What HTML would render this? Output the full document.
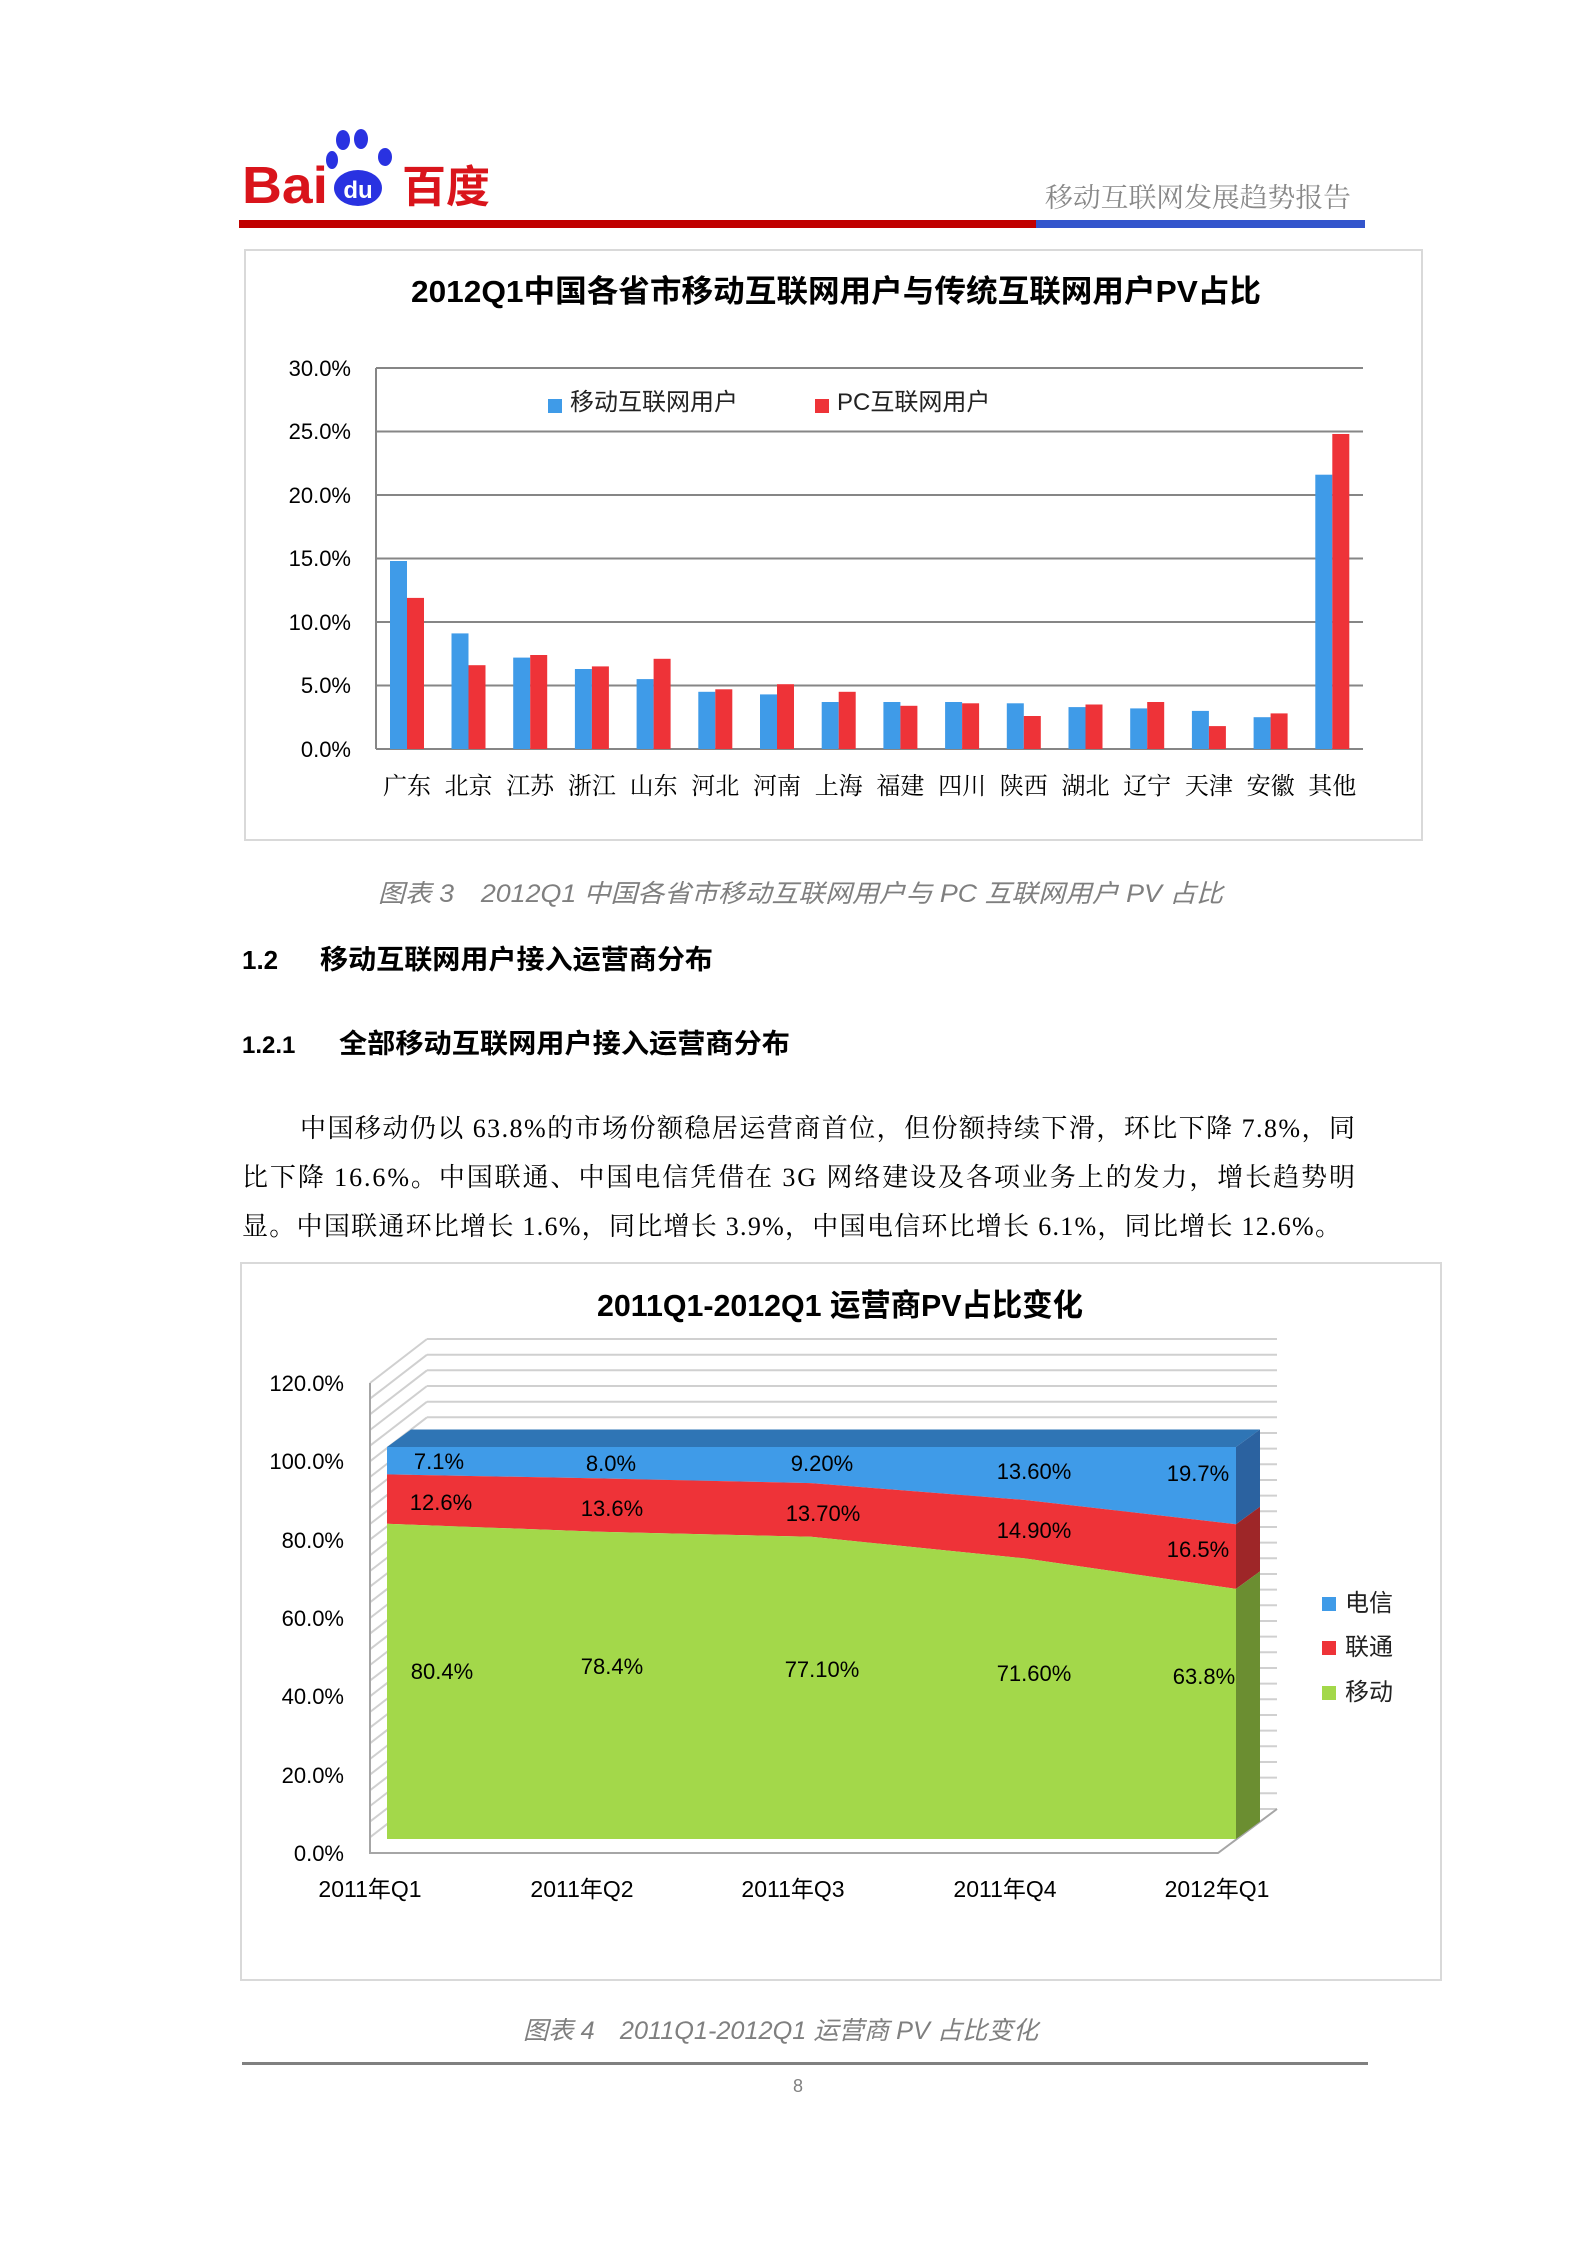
<!DOCTYPE html>
<html><head><meta charset="utf-8"><style>
body{margin:0;background:#fff;}
svg{display:block;}
.s{font-family:"Liberation Sans","Noto Sans CJK SC",sans-serif;}
.r{font-family:"Liberation Serif","Noto Serif CJK SC",serif;}
</style></head><body>
<svg width="1586" height="2244" viewBox="0 0 1586 2244" xmlns="http://www.w3.org/2000/svg">
<rect width="1586" height="2244" fill="#fff"/>
<!-- header -->
<g class="s">
<text x="242" y="203" font-size="52" font-weight="bold" fill="#d9141b" font-family="Liberation Sans,sans-serif" textLength="86" lengthAdjust="spacingAndGlyphs">Bai</text>
<ellipse cx="343" cy="140" rx="7" ry="10" fill="#2932e1"/>
<ellipse cx="361" cy="139" rx="7" ry="10" fill="#2932e1"/>
<ellipse cx="332" cy="160" rx="6" ry="9" fill="#2932e1"/>
<ellipse cx="385" cy="157" rx="7" ry="9" fill="#2932e1"/>
<ellipse cx="358" cy="188" rx="24" ry="18" fill="#2932e1"/>
<text x="358" y="198" font-size="24" font-weight="bold" fill="#fff" text-anchor="middle" font-family="Liberation Sans,sans-serif">du</text>
<text x="402" y="202" font-size="44" font-weight="bold" fill="#d9141b" font-family="Noto Sans CJK SC,sans-serif">百度</text>
</g>
<text x="1045" y="207" font-size="27" fill="#888" class="r" textLength="306" lengthAdjust="spacingAndGlyphs">移动互联网发展趋势报告</text>
<rect x="239" y="220" width="797" height="8" fill="#c00000"/>
<rect x="1036" y="220" width="329" height="8" fill="#3355cc"/>

<!-- chart 1 -->
<rect x="245" y="250" width="1177" height="590" fill="#fff" stroke="#d9d9d9" stroke-width="2"/>
<text x="411" y="302" font-size="31" font-weight="bold" class="s" fill="#000" textLength="850" lengthAdjust="spacingAndGlyphs">2012Q1中国各省市移动互联网用户与传统互联网用户PV占比</text>
<g stroke="#868686" stroke-width="2">
<line x1="376" y1="368" x2="1363" y2="368"/>
<line x1="376" y1="431.5" x2="1363" y2="431.5"/>
<line x1="376" y1="495" x2="1363" y2="495"/>
<line x1="376" y1="558.5" x2="1363" y2="558.5"/>
<line x1="376" y1="622" x2="1363" y2="622"/>
<line x1="376" y1="685.5" x2="1363" y2="685.5"/>
<line x1="376" y1="749" x2="1363" y2="749"/>
<line x1="376" y1="368" x2="376" y2="749"/>
</g>
<g class="s" font-size="22" text-anchor="end" fill="#000">
<text x="351" y="376">30.0%</text><text x="351" y="439">25.0%</text><text x="351" y="503">20.0%</text>
<text x="351" y="566">15.0%</text><text x="351" y="630">10.0%</text><text x="351" y="693">5.0%</text><text x="351" y="757">0.0%</text>
</g>
<rect x="548" y="399" width="14" height="14" fill="#3f9be8"/>
<text x="570" y="410" font-size="24" class="s" fill="#222">移动互联网用户</text>
<rect x="815" y="399" width="14" height="14" fill="#ee3338"/>
<text x="837" y="410" font-size="24" class="s" fill="#222">PC互联网用户</text>
<g fill="#3f9be8">
<rect x="390" y="561" width="17" height="188"/><rect x="451.5" y="633.4" width="17" height="115.6"/>
<rect x="513.2" y="657.6" width="17" height="91.4"/><rect x="574.9" y="669" width="17" height="80"/>
<rect x="636.6" y="679.1" width="17" height="69.9"/><rect x="698.3" y="691.8" width="17" height="57.2"/>
<rect x="760" y="694.4" width="17" height="54.6"/><rect x="821.7" y="702" width="17" height="47"/>
<rect x="883.4" y="702" width="17" height="47"/><rect x="945.1" y="702" width="17" height="47"/>
<rect x="1006.8" y="703.3" width="17" height="45.7"/><rect x="1068.5" y="707.1" width="17" height="41.9"/>
<rect x="1130.2" y="708.4" width="17" height="40.6"/><rect x="1191.9" y="710.9" width="17" height="38.1"/>
<rect x="1253.6" y="717.2" width="17" height="31.8"/><rect x="1315.3" y="474.7" width="17" height="274.3"/>
</g>
<g fill="#ee3338">
<rect x="407" y="597.9" width="17" height="151.1"/><rect x="468.5" y="665.2" width="17" height="83.8"/>
<rect x="530.2" y="655" width="17" height="94"/><rect x="591.9" y="666.4" width="17" height="82.6"/>
<rect x="653.6" y="658.8" width="17" height="90.2"/><rect x="715.3" y="689.3" width="17" height="59.7"/>
<rect x="777" y="684.2" width="17" height="64.8"/><rect x="838.7" y="691.8" width="17" height="57.2"/>
<rect x="900.4" y="705.8" width="17" height="43.2"/><rect x="962.1" y="703.3" width="17" height="45.7"/>
<rect x="1023.8" y="716" width="17" height="33"/><rect x="1085.5" y="704.5" width="17" height="44.5"/>
<rect x="1147.2" y="702" width="17" height="47"/><rect x="1208.9" y="726.1" width="17" height="22.9"/>
<rect x="1270.6" y="713.4" width="17" height="35.6"/><rect x="1332.3" y="434" width="17" height="315"/>
</g>
<g class="r" font-size="24" text-anchor="middle" fill="#000">
<text x="407" y="794">广东</text><text x="468.5" y="794">北京</text><text x="530.2" y="794">江苏</text><text x="591.9" y="794">浙江</text>
<text x="653.6" y="794">山东</text><text x="715.3" y="794">河北</text><text x="777" y="794">河南</text><text x="838.7" y="794">上海</text>
<text x="900.4" y="794">福建</text><text x="962.1" y="794">四川</text><text x="1023.8" y="794">陕西</text><text x="1085.5" y="794">湖北</text>
<text x="1147.2" y="794">辽宁</text><text x="1208.9" y="794">天津</text><text x="1270.6" y="794">安徽</text><text x="1332.3" y="794">其他</text>
</g>

<text x="378" y="902" font-size="25" font-style="italic" fill="#7f7f7f" class="s" textLength="845" lengthAdjust="spacingAndGlyphs">图表 3　2012Q1 中国各省市移动互联网用户与 PC 互联网用户 PV 占比</text>
<text x="242" y="969" font-size="26" font-weight="bold" class="s">1.2</text>
<text x="320" y="969" font-size="27" font-weight="bold" class="s" textLength="393" lengthAdjust="spacingAndGlyphs">移动互联网用户接入运营商分布</text>
<text x="242" y="1053" font-size="24" font-weight="bold" class="s">1.2.1</text>
<text x="339" y="1053" font-size="27" font-weight="bold" class="s" textLength="451" lengthAdjust="spacingAndGlyphs">全部移动互联网用户接入运营商分布</text>
<g class="r" font-size="26" fill="#000">
<text x="300" y="1137" textLength="1055" lengthAdjust="spacing">中国移动仍以 63.8%的市场份额稳居运营商首位，但份额持续下滑，环比下降 7.8%，同</text>
<text x="242" y="1186" textLength="1113" lengthAdjust="spacing">比下降 16.6%。中国联通、中国电信凭借在 3G 网络建设及各项业务上的发力，增长趋势明</text>
<text x="242" y="1235" textLength="1099" lengthAdjust="spacing">显。中国联通环比增长 1.6%，同比增长 3.9%，中国电信环比增长 6.1%，同比增长 12.6%。</text>
</g>

<!-- chart 2 -->
<rect x="241" y="1263" width="1200" height="717" fill="#fff" stroke="#d9d9d9" stroke-width="2"/>
<text x="597" y="1316" font-size="31" font-weight="bold" class="s" textLength="486" lengthAdjust="spacingAndGlyphs">2011Q1-2012Q1 运营商PV占比变化</text>
<g stroke="#d0d0d0" stroke-width="2">
<line x1="427" y1="1339" x2="1277" y2="1339"/><line x1="427" y1="1354.7" x2="1277" y2="1354.7"/>
<line x1="427" y1="1370.3" x2="1277" y2="1370.3"/><line x1="427" y1="1386" x2="1277" y2="1386"/>
<line x1="427" y1="1401.7" x2="1277" y2="1401.7"/><line x1="427" y1="1417.3" x2="1277" y2="1417.3"/>
<line x1="427" y1="1433" x2="1277" y2="1433"/><line x1="427" y1="1448.6" x2="1277" y2="1448.6"/>
<line x1="427" y1="1464.3" x2="1277" y2="1464.3"/><line x1="427" y1="1480" x2="1277" y2="1480"/>
<line x1="427" y1="1495.6" x2="1277" y2="1495.6"/><line x1="427" y1="1511.3" x2="1277" y2="1511.3"/>
<line x1="427" y1="1527" x2="1277" y2="1527"/><line x1="427" y1="1542.6" x2="1277" y2="1542.6"/>
<line x1="427" y1="1558.3" x2="1277" y2="1558.3"/><line x1="427" y1="1574" x2="1277" y2="1574"/>
<line x1="427" y1="1589.6" x2="1277" y2="1589.6"/><line x1="427" y1="1605.3" x2="1277" y2="1605.3"/>
<line x1="427" y1="1621" x2="1277" y2="1621"/><line x1="427" y1="1636.6" x2="1277" y2="1636.6"/>
<line x1="427" y1="1652.3" x2="1277" y2="1652.3"/><line x1="427" y1="1668" x2="1277" y2="1668"/>
<line x1="427" y1="1683.6" x2="1277" y2="1683.6"/><line x1="427" y1="1699.3" x2="1277" y2="1699.3"/>
<line x1="427" y1="1715" x2="1277" y2="1715"/><line x1="427" y1="1730.6" x2="1277" y2="1730.6"/>
<line x1="427" y1="1746.3" x2="1277" y2="1746.3"/><line x1="427" y1="1762" x2="1277" y2="1762"/>
<line x1="427" y1="1777.6" x2="1277" y2="1777.6"/><line x1="427" y1="1793.3" x2="1277" y2="1793.3"/>
<line x1="427" y1="1809" x2="1277" y2="1809"/>
<line x1="370" y1="1383" x2="427" y2="1339"/><line x1="370" y1="1398.7" x2="427" y2="1354.7"/>
<line x1="370" y1="1414.3" x2="427" y2="1370.3"/><line x1="370" y1="1430" x2="427" y2="1386"/>
<line x1="370" y1="1445.7" x2="427" y2="1401.7"/><line x1="370" y1="1461.3" x2="427" y2="1417.3"/>
<line x1="370" y1="1477" x2="427" y2="1433"/><line x1="370" y1="1492.6" x2="427" y2="1448.6"/>
<line x1="370" y1="1508.3" x2="427" y2="1464.3"/><line x1="370" y1="1524" x2="427" y2="1480"/>
<line x1="370" y1="1539.6" x2="427" y2="1495.6"/><line x1="370" y1="1555.3" x2="427" y2="1511.3"/>
<line x1="370" y1="1571" x2="427" y2="1527"/><line x1="370" y1="1586.6" x2="427" y2="1542.6"/>
<line x1="370" y1="1602.3" x2="427" y2="1558.3"/><line x1="370" y1="1618" x2="427" y2="1574"/>
<line x1="370" y1="1633.6" x2="427" y2="1589.6"/><line x1="370" y1="1649.3" x2="427" y2="1605.3"/>
<line x1="370" y1="1665" x2="427" y2="1621"/><line x1="370" y1="1680.6" x2="427" y2="1636.6"/>
<line x1="370" y1="1696.3" x2="427" y2="1652.3"/><line x1="370" y1="1712" x2="427" y2="1668"/>
<line x1="370" y1="1727.6" x2="427" y2="1683.6"/><line x1="370" y1="1743.3" x2="427" y2="1699.3"/>
<line x1="370" y1="1759" x2="427" y2="1715"/><line x1="370" y1="1774.6" x2="427" y2="1730.6"/>
<line x1="370" y1="1790.3" x2="427" y2="1746.3"/><line x1="370" y1="1806" x2="427" y2="1762"/>
<line x1="370" y1="1821.6" x2="427" y2="1777.6"/><line x1="370" y1="1837.3" x2="427" y2="1793.3"/>
</g>
<g stroke="#a6a6a6" stroke-width="2" fill="none">
<polyline points="370,1383 370,1853 1218,1853 1277,1809"/>
</g>
<!-- area -->
<polygon points="387,1447 1236,1447 1260,1429.5 411,1429.5" fill="#2f75b5"/>
<polygon points="1236,1447 1260,1429.5 1260,1506.7 1236,1524.2" fill="#2b62a0"/>
<polygon points="1236,1524.2 1260,1506.7 1260,1571.4 1236,1588.9" fill="#9e2628"/>
<polygon points="1236,1588.9 1260,1571.4 1260,1821.5 1236,1839" fill="#6b8e31"/>
<polygon points="387,1447 1236,1447 1236,1524.2 1024,1499.9 811,1483.1 599,1478.4 387,1474.4" fill="#3f9be8"/>
<polygon points="387,1474.4 599,1478.4 811,1483.1 1024,1499.9 1236,1524.2 1236,1588.9 1024,1558.3 811,1536.8 599,1531.7 387,1523.8" fill="#ee3338"/>
<polygon points="387,1523.8 599,1531.7 811,1536.8 1024,1558.3 1236,1588.9 1236,1839 387,1839" fill="#a3d84a"/>
<g class="s" font-size="22" text-anchor="middle" fill="#000">
<text x="439" y="1469">7.1%</text><text x="611" y="1471">8.0%</text><text x="822" y="1471">9.20%</text><text x="1034" y="1479">13.60%</text><text x="1198" y="1481">19.7%</text>
<text x="441" y="1510">12.6%</text><text x="612" y="1516">13.6%</text><text x="823" y="1521">13.70%</text><text x="1034" y="1538">14.90%</text><text x="1198" y="1557">16.5%</text>
<text x="442" y="1679">80.4%</text><text x="612" y="1674">78.4%</text><text x="822" y="1677">77.10%</text><text x="1034" y="1681">71.60%</text><text x="1204" y="1684">63.8%</text>
</g>
<g class="s" font-size="22" text-anchor="end" fill="#000">
<text x="344" y="1391">120.0%</text><text x="344" y="1469">100.0%</text><text x="344" y="1548">80.0%</text>
<text x="344" y="1626">60.0%</text><text x="344" y="1704">40.0%</text><text x="344" y="1783">20.0%</text><text x="344" y="1861">0.0%</text>
</g>
<g class="s" font-size="23" text-anchor="middle" fill="#000">
<text x="370" y="1897">2011年Q1</text><text x="582" y="1897">2011年Q2</text><text x="793" y="1897">2011年Q3</text>
<text x="1005" y="1897">2011年Q4</text><text x="1217" y="1897">2012年Q1</text>
</g>
<rect x="1322" y="1597" width="14" height="14" fill="#3f9be8"/><text x="1345" y="1611" font-size="24" class="s" fill="#222">电信</text>
<rect x="1322" y="1641" width="14" height="14" fill="#ee3338"/><text x="1345" y="1655" font-size="24" class="s" fill="#222">联通</text>
<rect x="1322" y="1686" width="14" height="14" fill="#a3d84a"/><text x="1345" y="1700" font-size="24" class="s" fill="#222">移动</text>

<text x="523" y="2039" font-size="25" font-style="italic" fill="#7f7f7f" class="s" textLength="515" lengthAdjust="spacingAndGlyphs">图表 4　2011Q1-2012Q1 运营商 PV 占比变化</text>
<rect x="242" y="2062" width="1126" height="3" fill="#808080"/>
<text x="798" y="2092" text-anchor="middle" font-size="18" fill="#808080" class="s">8</text>
</svg>
</body></html>
